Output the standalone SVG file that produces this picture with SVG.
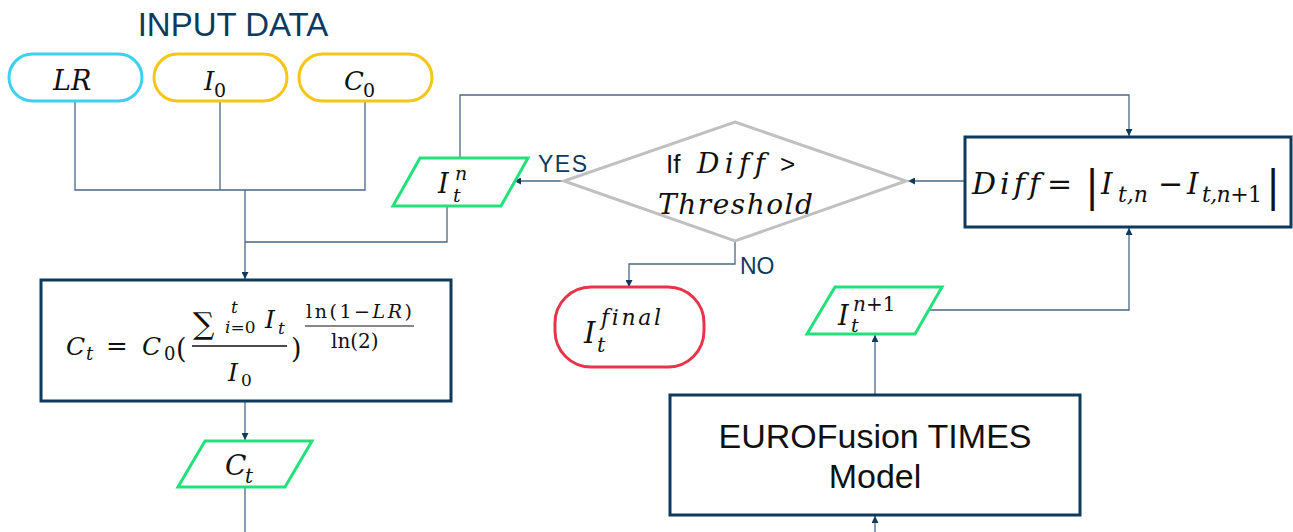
<svg xmlns="http://www.w3.org/2000/svg" width="1293" height="532" viewBox="0 0 1293 532">
<defs>
<marker id="arr" viewBox="0 0 10 10" refX="10" refY="5" markerWidth="7" markerHeight="7" orient="auto" markerUnits="userSpaceOnUse">
<path d="M0,0 L10,5 L0,10 z" fill="#0e3a5e"/>
</marker>
<style>
.conn{fill:none;stroke:#4a6785;stroke-width:1.3}
.box{fill:#fff;stroke:#0e3a5e;stroke-width:3}
.io{fill:#fff;stroke:#22e07a;stroke-width:3}
.m{font-family:"DejaVu Serif","Liberation Serif",serif;font-style:italic;fill:#111;font-variant-ligatures:none;font-feature-settings:"liga" 0,"clig" 0}
.r{font-family:"DejaVu Serif","Liberation Serif",serif;font-style:normal;fill:#111;font-variant-ligatures:none}
.lab{font-family:"Liberation Sans",Arial,sans-serif;fill:#0e3a5e}
.sans{font-family:"Liberation Sans",Arial,sans-serif;fill:#111}
</style>
</defs>
<rect width="1293" height="532" fill="#fff"/>
<text class="lab" x="233" y="36" font-size="33" text-anchor="middle">INPUT DATA</text>

<g id="connectors">
<path class="conn" d="M75,101 V190 H365 V101 M220,101 V190"/>
<path class="conn" d="M245,190 V279" marker-end="url(#arr)"/>
<path class="conn" d="M447,206 V242 H245"/>
<path class="conn" d="M460,158 V95 H1129 V136" marker-end="url(#arr)"/>
<path class="conn" d="M564,181 H514" marker-end="url(#arr)"/>
<path class="conn" d="M735,242 V264 H629 V287" marker-end="url(#arr)"/>
<path class="conn" d="M964,181 H908" marker-end="url(#arr)"/>
<path class="conn" d="M928,310 H1129 V228" marker-end="url(#arr)"/>
<path class="conn" d="M875,394 V335" marker-end="url(#arr)"/>
<path class="conn" d="M875,532 V516" marker-end="url(#arr)"/>
<path class="conn" d="M245,401 V440" marker-end="url(#arr)"/>
<path class="conn" d="M245,487 V532"/>
</g>
<text class="lab" x="538" y="172" font-size="23" textLength="49">YES</text>
<text class="lab" x="740" y="274" font-size="23">NO</text>

<g id="node-LR">
<rect x="9" y="54" width="133" height="47" rx="23.5" fill="#fff" stroke="#3fd0f0" stroke-width="3"/>
<text class="m" x="53" y="90" font-size="27">LR</text>
</g>
<g id="node-I0">
<rect x="154" y="54" width="133" height="47" rx="23.5" fill="#fff" stroke="#f5c518" stroke-width="3"/>
<text class="m" x="204" y="90" font-size="26">I</text>
<text class="r" x="214" y="97" font-size="19">0</text>
</g>
<g id="node-C0">
<rect x="299" y="54" width="133" height="47" rx="23.5" fill="#fff" stroke="#f5c518" stroke-width="3"/>
<text class="m" x="344" y="90" font-size="26">C</text>
<text class="r" x="363" y="97" font-size="19">0</text>
</g>

<g id="node-formula">
<rect class="box" x="41" y="280" width="410" height="121"/>
<text class="m" x="66" y="355" font-size="25">C</text>
<text class="m" x="86" y="360" font-size="18">t</text>
<text class="r" x="106" y="355" font-size="26" textLength="23">=</text>
<text class="m" x="142" y="355" font-size="25">C</text>
<text class="r" x="164" y="360" font-size="18">0</text>
<text class="r" x="176" y="358" font-size="27">(</text>
<text class="r" x="193" y="334" font-size="30">∑</text>
<text class="m" x="231" y="313" font-size="17">t</text>
<text class="m" x="225" y="333" font-size="17">i<tspan font-style="normal">=0</tspan></text>
<text class="m" x="265" y="328" font-size="25">I</text>
<text class="m" x="278" y="334" font-size="17">t</text>
<line x1="192" y1="346" x2="287" y2="346" stroke="#111" stroke-width="1.3"/>
<text class="m" x="228" y="381" font-size="25">I</text>
<text class="r" x="241" y="386" font-size="17">0</text>
<text class="r" x="291" y="358" font-size="27">)</text>
<text class="r" x="306" y="318" font-size="19" textLength="106">ln(1−<tspan font-style="italic">LR</tspan>)</text>
<line x1="305" y1="326" x2="414" y2="326" stroke="#111" stroke-width="1.2"/>
<text class="r" x="331" y="348" font-size="20">ln(2)</text>
</g>

<g id="node-Ct">
<polygon class="io" points="205,441 312,441 285,487 178,487"/>
<text class="m" x="225" y="475" font-size="28">C</text>
<text class="m" x="245" y="483" font-size="20">t</text>
</g>

<g id="node-Itn">
<polygon class="io" points="420,158 528,158 501,206 393,206"/>
<text class="m" x="438" y="193" font-size="27">I</text>
<text class="m" x="455" y="180" font-size="19">n</text>
<text class="m" x="453" y="202" font-size="19">t</text>
</g>

<g id="node-decision">
<polygon points="735,122 906,181 735,241 564,181" fill="#fff" stroke="#c0c0c0" stroke-width="3"/>
<text class="sans" x="666" y="173" font-size="26">If</text>
<text class="m" x="697" y="173" font-size="28" textLength="68">Diff</text>
<text class="sans" x="780" y="173" font-size="26">&gt;</text>
<text class="m" x="658" y="214" font-size="28" textLength="155">Threshold</text>
</g>

<g id="node-diff">
<rect class="box" x="965" y="137" width="326" height="90"/>
<text class="m" x="972" y="194" font-size="30" textLength="68">Diff</text>
<text class="r" x="1047" y="194" font-size="30" textLength="30">=</text>
<text class="r" x="1085" y="201" font-size="42">|</text>
<text class="m" x="1101" y="194" font-size="29">I</text>
<text class="m" x="1118" y="202" font-size="22">t,n</text>
<text class="r" x="1158" y="194" font-size="30" textLength="25">−</text>
<text class="m" x="1187" y="194" font-size="29">I</text>
<text class="m" x="1202" y="202" font-size="22" textLength="60">t,n<tspan font-style="normal">+1</tspan></text>
<text class="r" x="1266" y="201" font-size="42">|</text>
</g>

<g id="node-final">
<rect x="555" y="287" width="149" height="80" rx="36" fill="#fff" stroke="#e8344a" stroke-width="3"/>
<text class="m" x="584" y="343" font-size="29">I</text>
<text class="m" x="601" y="325" font-size="22" textLength="60">final</text>
<text class="m" x="597" y="352" font-size="21">t</text>
</g>

<g id="node-Itn1">
<polygon class="io" points="835,287 942,287 915,334 807,334" />
<text class="m" x="838" y="325" font-size="27">I</text>
<text class="m" x="853" y="311" font-size="20">n<tspan font-style="normal">+1</tspan></text>
<text class="m" x="851" y="332" font-size="19">t</text>
</g>

<g id="node-times">
<rect class="box" x="670" y="395" width="410" height="120"/>
<text class="sans" x="875" y="448" font-size="34" text-anchor="middle">EUROFusion TIMES</text>
<text class="sans" x="875" y="488" font-size="34" text-anchor="middle">Model</text>
</g>
</svg>
